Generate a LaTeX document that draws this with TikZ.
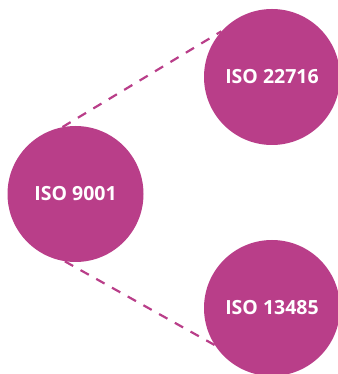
\documentclass[tikz,border=0pt]{standalone}
\usepackage{fontspec}
\setmainfont{Open Sans}
\usepackage{tikz}
\usetikzlibrary{shapes.geometric}
\definecolor{isopink}{RGB}{185,62,137}

\begin{document}
\begin{tikzpicture}[x=1pt,y=1pt]

\tikzstyle{isocircle}=[circle, fill=isopink, minimum size=136pt, inner sep=0pt, text=white, font=\fontsize{19.5}{22}\selectfont\bfseries]
\tikzstyle{link}=[isopink, line width=2.2pt, dash pattern=on 9.5pt off 8.5pt]

\useasboundingbox (0,0) rectangle (337,374);

\node (iso9001) [isocircle] at (75.5,180)  {ISO 9001};
\node (iso22716) [isocircle] at (272,297) {ISO 22716};
\node (iso13485) [isocircle] at (272,66)  {ISO 13485};

\draw[link] (iso9001.101) -- (iso22716.138);
\draw[link] (iso9001.261) -- (iso13485.213);
\end{tikzpicture}
\end{document}
